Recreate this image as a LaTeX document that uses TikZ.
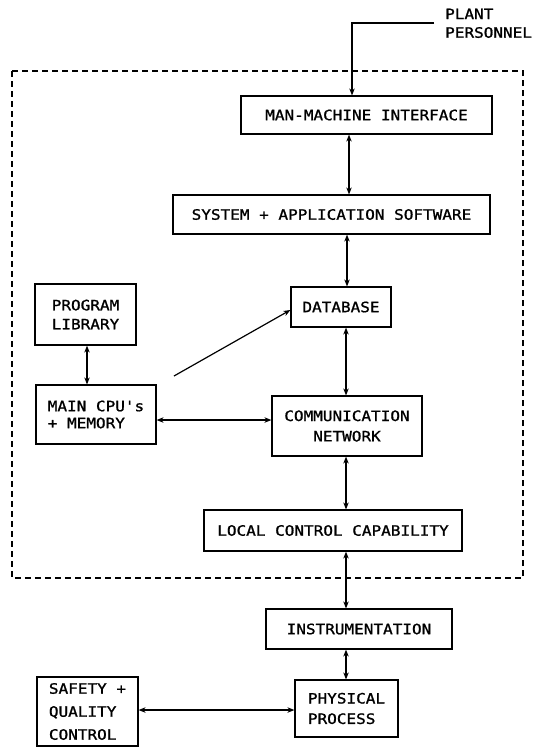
\documentclass[tikz,border=0pt]{standalone}
\usepackage{fontspec}
\newfontfamily\plotfont[FakeStretch=1.12,FakeBold=1.2]{DejaVu Sans Mono}
\usetikzlibrary{arrows.meta}
\begin{document}
\begin{tikzpicture}[x=1pt,y=-1pt,
  font=\plotfont\fontsize{14.3}{19}\selectfont,
  box/.style={draw, line width=1.2pt, inner sep=0pt, anchor=center},
  link/.style={line width=1.4pt, {Stealth[length=7pt,width=5.5pt]}-{Stealth[length=7pt,width=5.5pt]}},
  onelink/.style={line width=1.2pt, -{Stealth[length=7pt,width=5.5pt]}},
  frame/.style={line width=1.2pt, dash pattern=on 6pt off 4pt}]
\useasboundingbox (0,0) rectangle (534,748);
% dashed system boundary
\draw[frame] (12,71) rectangle (523,578);
% nodes
\node[box, minimum width=251pt, minimum height=38pt] (mmi) at (366.5,115) {MAN-MACHINE INTERFACE};
\node[box, minimum width=317pt, minimum height=39pt] (sys) at (331.5,214.5) {SYSTEM + APPLICATION SOFTWARE};
\node[box, minimum width=100pt, minimum height=40pt] (db) at (341,307) {DATABASE};
\node[box, minimum width=101pt, minimum height=61pt, align=center] (pl) at (85.5,314.5) {PROGRAM\\LIBRARY};
\node[box, minimum width=120pt, minimum height=59pt, align=left, font=\plotfont\fontsize{14.3}{17}\selectfont] (cpu) at (96,414.5) {MAIN CPU's\\+ MEMORY};
\node[box, minimum width=150pt, minimum height=60pt, align=center, font=\plotfont\fontsize{14.3}{20.4}\selectfont] (comm) at (347,426) {COMMUNICATION\\NETWORK};
\node[box, minimum width=258pt, minimum height=41pt] (lcc) at (333,530.5) {LOCAL CONTROL CAPABILITY};
\node[box, minimum width=186pt, minimum height=40pt] (inst) at (359,629) {INSTRUMENTATION};
\node[box, minimum width=103pt, minimum height=57pt, align=left, font=\plotfont\fontsize{14.3}{20.4}\selectfont] (phys) at (346.5,708.5) {PHYSICAL\\PROCESS};
\node[box, minimum width=101pt, minimum height=69pt, align=left, font=\plotfont\fontsize{14.3}{23}\selectfont] (safe) at (87.5,711.5) {SAFETY +\\QUALITY\\CONTROL};
\node[inner sep=0pt, anchor=north west, align=left, font=\plotfont\fontsize{14.3}{18.6}\selectfont] (pp) at (445,8.5) {PLANT\\PERSONNEL};
% connectors
\coordinate (ppend) at (434,23);
\coordinate (ppcorner) at (352,23);
\draw[onelink] (ppend) -- (ppcorner) -- (ppcorner |- mmi.north);
\draw[link] (mmi.south -| 349,0) -- (sys.north -| 349,0);
\draw[link] (sys.south -| 347,0) -- (db.north -| 347,0);
\draw[link] (db.south -| 346,0) -- (comm.north -| 346,0);
\draw[link] (comm.south -| 346,0) -- (lcc.north -| 346,0);
\draw[link] (lcc.south -| 346,0) -- (inst.north -| 346,0);
\draw[link] (inst.south -| 346,0) -- (phys.north -| 346,0);
\draw[link] (pl.south -| 87,0) -- (cpu.north -| 87,0);
\draw[link] (cpu.east |- 0,420) -- (comm.west |- 0,420);
\draw[link] (safe.east |- 0,710) -- (phys.west |- 0,710);
\coordinate (diagstart) at (174,376);
\draw[onelink] (diagstart) -- (db.west |- 0,310);
\end{tikzpicture}
\end{document}
